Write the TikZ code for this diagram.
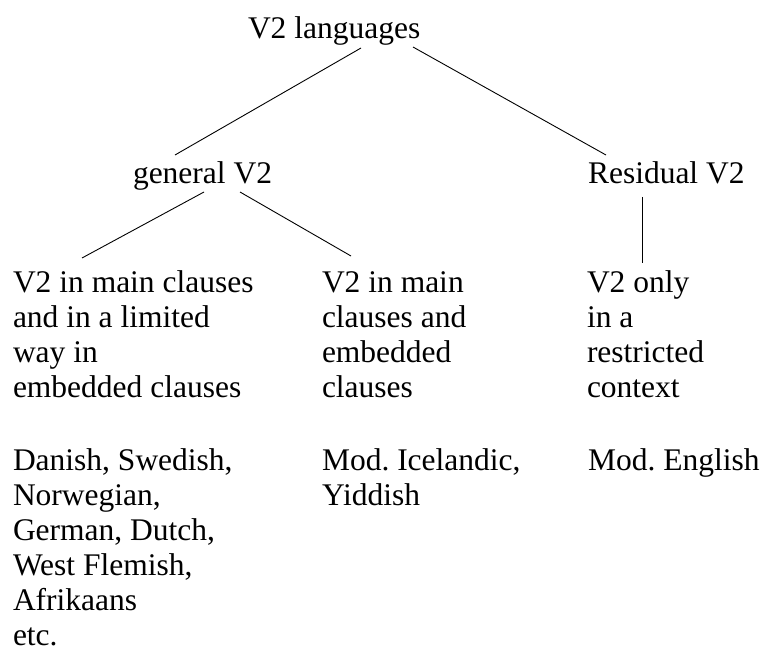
\documentclass[tikz,border=0pt]{standalone}
\usepackage{fontspec}
\setmainfont{Liberation Serif}
\frenchspacing
\begin{document}
\begin{tikzpicture}[x=1pt, y=-1pt,
  txt/.style={inner sep=0pt, outer sep=0pt, font=\fontsize{31.5}{35}\selectfont, align=left, anchor=base west},
  branch/.style={line width=0.9pt, black}]
\useasboundingbox (0,0) rectangle (764,650);

% tree labels (single-line nodes: placed at their baseline)
\node[txt] (root) at (248,39) {V2 languages};
\node[txt] (gen) at (133,184) {general V2};
\node[txt] (res) at (588,184) {Residual V2};

% descriptions of each type (multi-line nodes: placed at the last baseline)
\node[txt] (mainlim) at (13,397) {V2 in main clauses\\and in a limited\\way in\\embedded clauses};
\node[txt] (mainemb) at (322,397) {V2 in main\\clauses and\\embedded\\clauses};
\node[txt] (restr) at (587,397) {V2 only\\in a\\restricted\\context};

% example languages
\node[txt] (exA) at (13,645) {Danish, Swedish,\\Norwegian,\\German, Dutch,\\West Flemish,\\Afrikaans\\etc.};
\node[txt] (exB) at (322,505) {Mod. Icelandic,\\Yiddish};
\node[txt] (exC) at (588,470) {Mod. English};

% branch end points
\coordinate (root-l) at (361,48);
\coordinate (root-r) at (413,47);
\coordinate (gen-t) at (175,155);
\coordinate (res-t) at (606,155);
\coordinate (gen-l) at (204,192);
\coordinate (gen-r) at (240,192);
\coordinate (mainlim-t) at (82,258);
\coordinate (mainemb-t) at (351,256);
\coordinate (res-b) at (642,197);
\coordinate (restr-t) at (642,263);

\draw[branch] (root-l) -- (gen-t);
\draw[branch] (root-r) -- (res-t);
\draw[branch] (gen-l) -- (mainlim-t);
\draw[branch] (gen-r) -- (mainemb-t);
\draw[branch] (res-b) -- (restr-t);
\end{tikzpicture}
\end{document}
